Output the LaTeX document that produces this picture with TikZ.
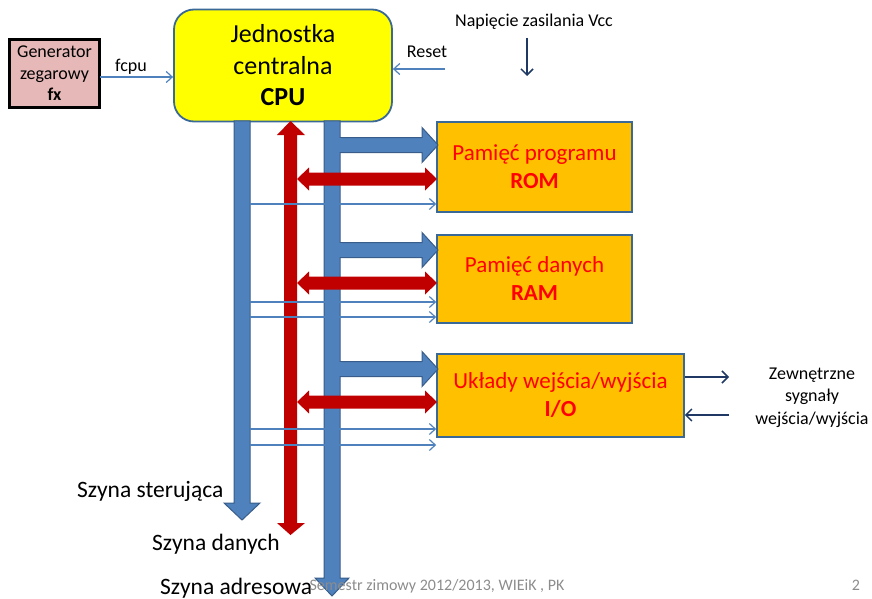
\documentclass[tikz,border=0pt]{standalone}
\usepackage{fontspec}
\setmainfont{Carlito}
\usetikzlibrary{arrows.meta}

\definecolor{busblue}{HTML}{4F81BD}
\definecolor{busedge}{HTML}{385D8A}
\definecolor{busred}{HTML}{C00000}
\definecolor{cpufill}{HTML}{FFFF00}
\definecolor{boxedge}{HTML}{3A6897}
\definecolor{memfill}{HTML}{FFC000}
\definecolor{genfill}{HTML}{E6B9B8}
\definecolor{navy}{HTML}{1F3864}
\definecolor{footgrey}{HTML}{8C8C8C}

\tikzset{
  genbox/.style={draw=black, line width=2.4pt, fill=genfill, minimum width=90pt,
    minimum height=68pt, inner sep=0pt, align=center,
    font=\fontsize{18}{21.5}\selectfont},
  cpubox/.style={draw=boxedge, line width=1.8pt, fill=cpufill, rounded corners=20pt,
    minimum width=218pt, minimum height=112pt, inner sep=0pt, align=center,
    font=\fontsize{26}{31.5}\selectfont},
  membox/.style={draw=boxedge, line width=1.6pt, fill=memfill, minimum width=195pt,
    inner sep=0pt, align=center, text=red, font=\fontsize{23}{28}\selectfont},
  smalltext/.style={inner sep=0pt, align=center, font=\fontsize{18}{22.5}\selectfont},
  buslabel/.style={inner sep=0pt, anchor=base west, font=\fontsize{23.5}{28}\selectfont},
  thinarrow/.style={draw=busblue, line width=1.3pt,
    -{Straight Barb[length=6pt,width=11pt,line width=1.2pt]}},
  navyarrow/.style={draw=navy, line width=1.6pt,
    -{Straight Barb[length=6pt,width=12pt,line width=1.5pt]}},
  busfill/.style={fill=busblue, draw=busedge, line width=1pt, line join=miter},
  redfill/.style={fill=busred},
}

\begin{document}
\begin{tikzpicture}[x=1pt, y=-1pt]
\useasboundingbox (0,0) rectangle (872,599);

% ---- blocks ----
\node[genbox] (gen) at (54.5,73.5) {Generator\\zegarowy\\\textbf{fx}};
\node[cpubox] (cpu) at (283,65.5) {Jednostka\\centralna\\\textbf{CPU}};
\node[membox, minimum height=90pt] (rom) at (534.5,167) {Pamięć programu\\\textbf{ROM}};
\node[membox, minimum height=88pt] (ram) at (534.5,279) {Pamięć danych\\\textbf{RAM}};
\node[membox, minimum width=247pt, minimum height=83pt] (io) at (560.5,395.5)
  {Układy wejścia/wyjścia\\\textbf{I/O}};

% ---- clock and reset inputs ----
\coordinate (clk) at (100,77);
\draw[thinarrow] (clk) -- (clk -| cpu.west);
\node[smalltext] (fcpu) at (131,67) {fcpu};
\coordinate (rst) at (445,69);
\draw[thinarrow] (rst) -- (rst -| cpu.east);
\node[smalltext] (reset) at (427,52) {Reset};

% ---- supply ----
\node[smalltext] (vcc) at (534,22) {Napięcie zasilania Vcc};
\coordinate (vcctop) at (527,38);
\coordinate (vccbot) at (527,76);
\draw[navyarrow] (vcctop) -- (vccbot);

% ---- control bus ----
\draw[busfill] (234,121) -- (250,121) -- (250,503) -- (260,503) -- (242,520)
  -- (224,503) -- (234,503) -- cycle;

% ---- address bus ----
\draw[busfill] (324,121) -- (340,121) -- (340,578) -- (349,578) -- (332,596)
  -- (315,578) -- (324,578) -- cycle;

% ---- address branches to the blocks ----
\foreach \c in {145,250,369} {
  \fill[busblue] (340,\c-7.5) -- (422,\c-7.5) -- (422,\c-17.5) -- (438,\c)
    -- (422,\c+17.5) -- (422,\c+7.5) -- (340,\c+7.5) -- cycle;
  \draw[busedge, line width=1pt, line join=miter] (340,\c-7.5) -- (422,\c-7.5)
    -- (422,\c-17.5) -- (438,\c) -- (422,\c+17.5) -- (422,\c+7.5) -- (340,\c+7.5);
  \fill[busblue] (338.5,\c-7) rectangle (341.5,\c+7);
}

% ---- data bus (bidirectional) ----
\fill[redfill] (284,135) -- (277,135) -- (290.5,121) -- (305,135) -- (297,135)
  -- (297,523) -- (305,523) -- (290.5,535) -- (277,523) -- (284,523) -- cycle;

\foreach \c in {179,283,402} {
  \fill[redfill] (297,\c) -- (309,\c-11.5) -- (309,\c-6.5) -- (425,\c-6.5)
    -- (425,\c-11.5) -- (437,\c) -- (425,\c+11.5) -- (425,\c+6.5)
    -- (309,\c+6.5) -- (309,\c+11.5) -- cycle;
}

% ---- control lines ----
\foreach \y/\n in {204/rom, 302/ram, 317/ram, 429/io, 445/io} {
  \coordinate (s) at (250,\y);
  \draw[thinarrow] (s) -- (s -| \n.west);
}

% ---- external I/O signals ----
\coordinate (extout) at (729,377);
\coordinate (extin) at (729,415);
\draw[navyarrow] (extout -| io.east) -- (extout);
\draw[navyarrow] (extin) -- (extin -| io.east);
\node[smalltext] (ext) at (812,397.5) {Zewnętrzne\\sygnały\\wejścia/wyjścia};

% ---- bus names ----
\node[buslabel] (lctl) at (77,497) {Szyna sterująca};
\node[buslabel] (ldat) at (152,550) {Szyna danych};
\node[buslabel] (ladr) at (160,594) {Szyna adresowa};

% ---- footer ----
\node[inner sep=0pt, anchor=base, text=footgrey, font=\fontsize{16}{19}\selectfont]
  (foot) at (437,590) {Semestr zimowy 2012/2013, WIEiK , PK};
\node[inner sep=0pt, anchor=base, text=footgrey, font=\fontsize{16}{19}\selectfont]
  (page) at (856,590) {2};
\end{tikzpicture}
\end{document}
